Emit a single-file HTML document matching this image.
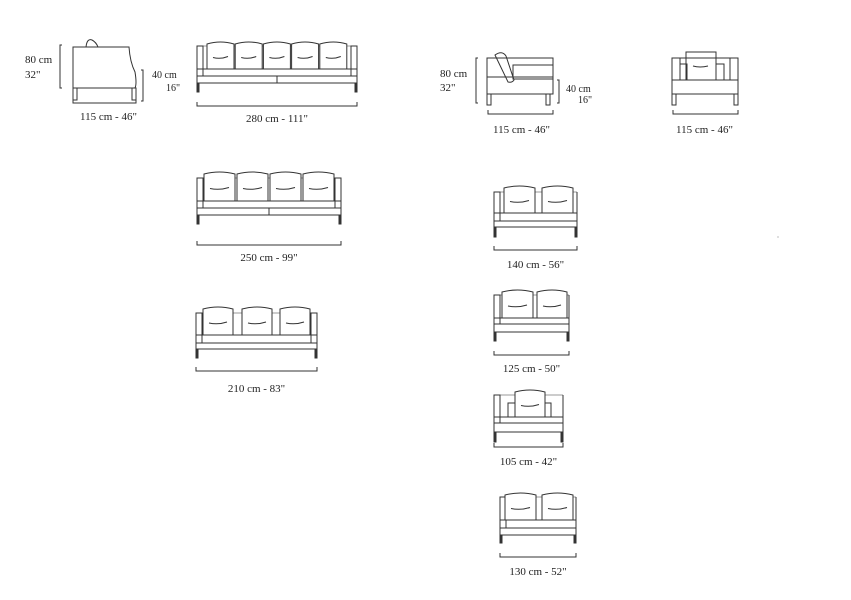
<!DOCTYPE html>
<html><head><meta charset="utf-8"><style>
html,body{margin:0;padding:0;background:#fff;width:851px;height:600px;overflow:hidden}
svg{display:block}
text{font-family:"Liberation Serif",serif;font-size:11px;fill:#222;stroke:none}
</style></head><body>
<svg id="s" width="851" height="600" xmlns="http://www.w3.org/2000/svg" stroke="#333" stroke-width="1" fill="none">
<!-- side view left -->
<path d="M62 45 H60 V88 H62"/>
<path d="M73 88 V47 H129 Q130 62 135 72 Q137 84 135 88 Z"/>
<path d="M86 47 Q87 38 92 40 Q96 42 98 47"/>
<rect x="73" y="88" width="4" height="12"/><rect x="132" y="88" width="4" height="12"/>
<path d="M141 70 H143 V101 H141"/>
<path d="M73 98 V103 H136 V98"/>
<text x="80" y="120">115 cm - 46"</text>
<text x="25" y="63">80  cm</text><text x="25" y="78">32"</text>
<text x="152" y="78" style="font-size:10px">40 cm</text><text x="166" y="91" style="font-size:10px">16"</text>
<!-- side view right -->
<path d="M478 58 H476 V103 H478"/>
<rect x="487" y="58" width="66" height="36"/>
<path d="M487 77 H553"/>
<path d="M495 55 Q502 50 506 56 L514 80 Q512 83 508 82 Z"/>
<rect x="513" y="65" width="40" height="14"/>
<rect x="487" y="94" width="4" height="11"/><rect x="546" y="94" width="4" height="11"/>
<path d="M557 80 H559 V103 H557"/>
<path d="M488 110 V114 H553 V110"/>
<text x="493" y="133">115 cm - 46"</text>
<text x="440" y="77">80  cm</text><text x="440" y="91">32"</text>
<text x="566" y="92" style="font-size:10px">40 cm</text><text x="578" y="103" style="font-size:10px">16"</text>
<!-- armchair -->
<rect x="672" y="58" width="66" height="36"/>
<path d="M680 58 V80 M730 58 V80 M672 80 H738"/>
<rect x="686" y="52" width="30" height="28"/>
<path d="M693 66 Q700 68 708 66"/>
<rect x="680" y="64" width="7" height="16"/><rect x="716" y="64" width="8" height="16"/>
<rect x="672" y="94" width="4" height="11"/><rect x="734" y="94" width="4" height="11"/>
<path d="M673 110 V114 H738 V110"/>
<text x="676" y="133">115 cm - 46"</text>
<g id="g"></g>
<circle cx="778" cy="237" r="0.5" fill="#555" stroke="none"/>
</svg>
<script>
var g=document.getElementById('g'),h='';
function sofa(o){
 var x0=o.x0,x1=o.x1;
 h+='<path d="M'+x0+' '+o.leg+' V'+o.arm+' H'+(x0+6)+' V'+o.s2+'"/>';
 if(o.rarm) h+='<path d="M'+x1+' '+o.leg+' V'+o.arm+' H'+(x1-6)+' V'+o.s2+'"/>';
 else h+='<path d="M'+x1+' '+o.leg+' V'+o.arm+'"/>';
 h+='<path d="M'+x0+' '+o.s1+' H'+x1+' M'+x0+' '+o.s2+' H'+x1+' M'+x0+' '+o.s3+' H'+x1+'"/>';
 h+='<path d="M'+(x0+6)+' '+o.arm+' H'+(x1-(o.rarm?6:0))+'" stroke-width="0.6"/>';
 if(o.mid) h+='<path d="M'+o.mid+' '+o.s2+' V'+o.s3+'"/>';
 o.c.forEach(function(c){
  var a=c[0],b=c[1],t=o.ct,bt=o.s1;
  h+='<path fill="#fff" d="M'+a+' '+bt+' V'+(t+2)+' Q'+((a+b)/2)+' '+(t-2)+' '+b+' '+(t+2)+' V'+bt+' Z"/>';
  var m=(t+bt)/2+2;
  h+='<path d="M'+(a+6)+' '+m+' Q'+((a+b)/2)+' '+(m+2)+' '+(b-6)+' '+(m-1)+'"/>';
 });
 h+='<rect x="'+x0+'" y="'+o.s3+'" width="2" height="'+(o.leg-o.s3)+'" fill="#333"/>';
 h+='<rect x="'+(x1-2)+'" y="'+o.s3+'" width="2" height="'+(o.leg-o.s3)+'" fill="#333"/>';
 h+='<path d="M'+x0+' '+(o.dim-3)+' V'+(o.dim+1)+' H'+x1+' V'+(o.dim-3)+'"/>';
 h+='<text x="'+((x0+x1)/2)+'" y="'+o.ty+'" text-anchor="middle">'+o.t+'</text>';
}
function cs(a,n,w,gap){var r=[];for(var i=0;i<n;i++)r.push([a+i*(w+gap),a+i*(w+gap)+w]);return r;}
sofa({x0:197,x1:357,arm:46,ct:42,s1:69,s2:76,s3:83,leg:92,dim:105,ty:122,c:cs(207,5,27,1.2),rarm:1,mid:277,t:'280 cm - 111"'});
sofa({x0:197,x1:341,arm:178,ct:172,s1:201,s2:208,s3:215,leg:224,dim:244,ty:261,c:cs(204,4,31,2),rarm:1,mid:269,t:'250 cm - 99"'});
sofa({x0:196,x1:317,arm:313,ct:307,s1:335,s2:343,s3:349,leg:358,dim:370,ty:392,c:[[203,233],[242,272],[280,310]],rarm:1,t:'210 cm - 83"'});
sofa({x0:494,x1:577,arm:192,ct:186,s1:213,s2:221,s3:227,leg:237,dim:249,ty:268,c:[[504,535],[542,573]],rarm:0,t:'140 cm - 56"'});
sofa({x0:494,x1:569,arm:295,ct:290,s1:318,s2:324,s3:332,leg:341,dim:354,ty:372,c:[[502,533],[537,567]],rarm:0,t:'125 cm - 50"'});
sofa({x0:494,x1:563,arm:395,ct:390,s1:417,s2:423,s3:432,leg:442,dim:446,ty:465,c:[[515,545]],rarm:0,t:'105 cm - 42"'});
sofa({x0:500,x1:576,arm:497,ct:493,s1:520,s2:528,s3:535,leg:543,dim:556,ty:575,c:[[505,536],[542,573]],rarm:0,t:'130 cm - 52"'});
h+='<rect x="508" y="403" width="7" height="14"/><rect x="545" y="403" width="6" height="14"/>';
g.innerHTML=h;
</script>
</body></html>
